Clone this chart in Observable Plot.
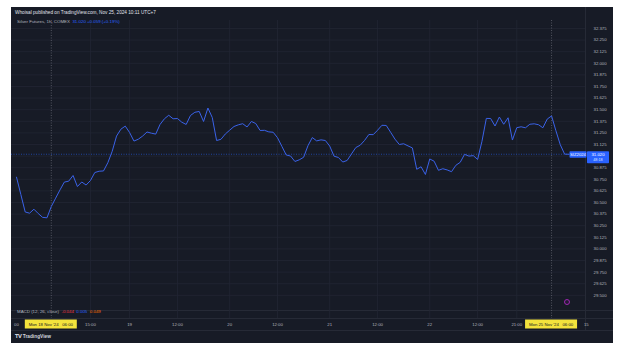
<!DOCTYPE html>
<html><head><meta charset="utf-8">
<script src="https://cdn.jsdelivr.net/npm/d3@7"></script>
<script src="https://cdn.jsdelivr.net/npm/@observablehq/plot@0.6"></script>
<style>
html,body{margin:0;padding:0;background:#fff;}
#wrap{position:relative;width:624px;height:351px;overflow:hidden;font-family:"Liberation Sans",Arial,sans-serif;}
#panel{position:absolute;left:11px;top:7px;width:602px;height:336px;background:#171b26;}
#chart{position:absolute;left:0;top:0;}
.t{position:absolute;white-space:nowrap;line-height:1;}
.hl{position:absolute;background:#262a36;}
</style></head><body>
<div id="wrap">
  <div id="panel"></div>
  <div class="hl" style="left:11px;top:309.5px;width:602px;height:0.6px"></div>
  <div class="hl" style="left:11px;top:318px;width:602px;height:0.6px"></div>
  <div class="hl" style="left:11px;top:330px;width:602px;height:0.6px"></div>
  <div class="hl" style="left:585px;top:7px;width:0.6px;height:323px"></div>
  <div id="chart"></div>
  <div class="t" style="left:15px;top:10.5px;font-size:4.7px;color:#e0e3eb">Whoisal published on TradingView.com, Nov 25, 2024 10:11 UTC+7</div>
  <div class="t" style="left:17px;top:19.6px;font-size:4.4px;color:#b2b5be">Silver Futures, 1h, COMEX&nbsp; <span id="legval" style="color:#2962ff"></span></div>
  <div class="t" style="left:17px;top:310.3px;font-size:4.4px;color:#b2b5be">MACD (12, 26, close)&nbsp; <span id="m1" style="color:#f23645"></span>&nbsp; <span id="m2" style="color:#2962ff"></span>&nbsp; <span id="m3" style="color:#ff6d00"></span></div>
  <div class="t" style="left:15px;top:334.5px;font-size:4.8px;color:#d1d4dc;font-weight:bold"><span style="letter-spacing:-0.3px">𝗧𝗩</span> TradingView</div>
  <div style="position:absolute;left:563.5px;top:298.5px;width:6px;height:6px;border-radius:50%;border:0.8px solid #9c27b0;box-sizing:border-box;background:#241a33"></div>
</div>
<script>
// hourly closes, Fri 15 Nov 21:00 (UTC+7) to Mon 25 Nov 10:00
const prices = [
30.773,30.586,30.398,30.385,30.428,30.381,30.340,30.335,
30.457,30.547,30.636,30.720,30.730,30.791,30.672,30.721,30.688,30.737,30.823,30.837,30.840,30.929,31.052,31.216,31.290,31.323,31.254,31.162,31.182,31.216,
31.260,31.247,31.237,31.341,31.402,31.440,31.402,31.405,31.365,31.341,31.438,31.472,31.481,31.373,31.518,31.416,31.168,31.181,31.238,31.279,
31.319,31.337,31.349,31.314,31.373,31.351,31.276,31.278,31.261,31.257,31.198,31.105,31.012,31.001,30.942,30.960,30.987,31.112,31.200,31.164,
31.175,31.168,31.108,30.999,30.985,30.936,30.953,31.023,31.092,31.117,31.168,31.233,31.231,31.279,31.332,31.330,31.257,31.183,31.125,31.133,
31.110,31.088,30.858,30.885,30.802,30.969,30.945,30.847,30.864,30.851,30.832,30.901,30.933,31.019,31.000,31.005,30.964,31.159,31.406,31.405,
31.324,31.421,31.343,31.413,31.173,31.306,31.316,31.305,31.343,31.348,31.338,31.305,31.399,31.433,31.273,31.123,31.021,31.020
];
const priceTicks = [29.5,29.625,29.75,29.875,30,30.125,30.25,30.375,30.5,30.625,30.75,30.875,31,31.125,31.25,31.375,31.5,31.625,31.75,31.875,32,32.125,32.25,32.375];
const timeTickBars = [0,17,26,37,49,60,72,83,95,106,115,131];
const timeTickLabels = ["00","15:00","19","12:00","20","12:00","21","12:00","22","12:00","21:00","15"];
const sessionBars = [8,123];
const sessionLabels = ["Mon 18 Nov '24\u00a0\u00a0 06:00","Mon 25 Nov '24\u00a0\u00a0 06:00"];
const symbol = "SIZ2024";
const lastPrice = 31.020;
const countdown = "48:18";
const legendValue = "31.020 +0.059 (+0.19%)";
const macdValues = ["-0.044","0.005","0.049"];

document.getElementById("legval").textContent = legendValue;
document.getElementById("m1").textContent = macdValues[0];
document.getElementById("m2").textContent = macdValues[1];
document.getElementById("m3").textContent = macdValues[2];

const data = prices.map((p,i)=>({i, p}));
const gridBars = timeTickBars.filter(b => b > 0 && b < 130);
// the price label box hides the axis label it covers
const labelTicks = priceTicks.filter(t => Math.abs(t - lastPrice) > 0.08);

const plot = Plot.plot({
  width: 624, height: 351,
  marginLeft: 11, marginRight: 39, marginTop: 20, marginBottom: 43,
  style: {background: "transparent", fontSize: "4.3px", fontFamily: "'Liberation Sans', Arial, sans-serif", color: "#b2b5be"},
  x: {domain: [-1.15, 130.8], ticks: timeTickBars, tickFormat: d => timeTickLabels[timeTickBars.indexOf(d)], tickSize: 0, tickPadding: 14, label: null},
  y: {domain: [29.358, 32.461], axis: "right", ticks: labelTicks, tickFormat: d3.format(".3f"), tickSize: 0, tickPadding: 8, label: null},
  marks: [
    Plot.ruleY(priceTicks, {stroke: "#222633", strokeWidth: 0.8}),
    Plot.ruleX(gridBars, {stroke: "#222633", strokeWidth: 0.8, insetBottom: -10}),
    Plot.ruleX(sessionBars, {stroke: "#6a6d78", strokeWidth: 0.7, strokeDasharray: "1,1.5", insetBottom: -10}),
    Plot.ruleY([lastPrice], {stroke: "#2962ff", strokeWidth: 0.7, strokeDasharray: "1,1.5", strokeOpacity: 0.8}),
    Plot.lineY(data, {x: "i", y: "p", stroke: "#3a62e8", strokeWidth: 1})
  ]
});
document.getElementById("chart").appendChild(plot);

const sx = plot.scale("x"), sy = plot.scale("y");
const svg = d3.select(plot);
sessionBars.forEach((b, k) => {
  const cx = sx.apply(b);
  const g = svg.append("g");
  g.append("rect").attr("x", cx - 26).attr("y", 319.5).attr("width", 52).attr("height", 9).attr("fill", "#f3e33c");
  g.append("text").attr("x", cx).attr("y", 324).attr("dy", "0.35em").attr("text-anchor", "middle")
    .attr("fill", "#131722").style("font-size", "4.3px").text(sessionLabels[k]);
});
const py = sy.apply(lastPrice);
svg.append("rect").attr("x", 569.5).attr("y", py - 2.5).attr("width", 17).attr("height", 6.5).attr("fill", "#2962ff").attr("rx", 0.8);
svg.append("text").attr("x", 578).attr("y", py + 0.8).attr("dy", "0.35em").attr("text-anchor", "middle").attr("fill", "#fff").style("font-size", "4.2px").text(symbol);
svg.append("rect").attr("x", 587).attr("y", py - 2.5).attr("width", 22).attr("height", 12).attr("fill", "#2962ff").attr("rx", 0.8);
svg.append("text").attr("x", 598).attr("y", py + 0.9).attr("dy", "0.35em").attr("text-anchor", "middle").attr("fill", "#fff").style("font-size", "4.3px").text(d3.format(".3f")(lastPrice));
svg.append("text").attr("x", 598).attr("y", py + 6).attr("dy", "0.35em").attr("text-anchor", "middle").attr("fill", "#dfe4ff").style("font-size", "3.8px").text(countdown);
</script>
</body></html>
